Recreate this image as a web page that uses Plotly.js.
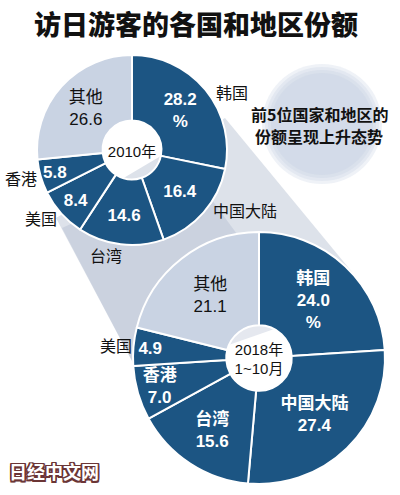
<!DOCTYPE html>
<html>
<head>
<meta charset="utf-8">
<script src="https://cdn.plot.ly/plotly-3.0.1.min.js"></script>
<style>
  html, body { margin: 0; padding: 0; background: #fff; }
  #chart { width: 400px; height: 495px; }
</style>
</head>
<body>
<div id="chart"></div>
<script>
// 访日游客份额 (%) — 2010年 vs 2018年1~10月
const labels2010 = ['韩国', '中国大陆', '台湾', '美国', '香港', '其他'];
const shares2010 = [28.2, 16.4, 14.6, 8.4, 5.8, 26.6];

const labels2018 = ['韩国', '中国大陆', '台湾', '香港', '美国', '其他'];
const shares2018 = [24.0, 27.4, 15.6, 7.0, 4.9, 21.1];

const noteLines = ['前5位国家和地区的', '份额呈现上升态势'];

const W = 400, H = 495;
const DARK  = '#1c5583';
const LIGHT = '#c9d3e3';
const FONT  = '"Liberation Sans", Arial, "Noto Sans CJK SC", sans-serif';
const CJK   = '"Noto Sans CJK SC", sans-serif';

// pie placement in pixels (center + outer radius)
const TOP = { cx: 132, cy: 150, r: 95 };
const BOT = { cx: 259, cy: 358, r: 126 };

function domainOf(p) {
  return {
    x: [(p.cx - p.r) / W, (p.cx + p.r) / W],
    y: [1 - (p.cy + p.r) / H, 1 - (p.cy - p.r) / H],
  };
}

// paper position of a label placed at the middle angle of slice i
function slicePos(p, values, i, rad, nudge) {
  const total = values.reduce((a, b) => a + b, 0);
  const before = values.slice(0, i).reduce((a, b) => a + b, 0);
  const ang = ((before + values[i] / 2) / total * 360 + (nudge || 0)) * Math.PI / 180;
  return { x: (p.cx + rad * Math.sin(ang)) / W, y: 1 - (p.cy - rad * Math.cos(ang)) / H };
}

const colors    = labels => labels.map(l => l === '其他' ? LIGHT : DARK);
const txtColors = labels => labels.map(l => l === '其他' ? '#111' : '#fff');
const txtWeight = labels => labels.map(l => l === '其他' ? 'normal' : 'bold');

// slice texts
const text2010 = shares2010.map((v, i) => {
  const s = v.toFixed(1);
  if (i === 0) return s + '<br>%';
  if (labels2010[i] === '其他') return labels2010[i] + '<br>' + s;
  return s;
});
const text2018 = shares2018.map((v, i) => {
  const s = v.toFixed(1);
  if (labels2018[i] === '美国') return s;
  if (i === 0) return labels2018[i] + '<br>' + s + '<br>%';
  return labels2018[i] + '<br>' + s;
});

const pieBase = {
  type: 'pie',
  sort: false,
  direction: 'clockwise',
  rotation: 0,
  textinfo: 'text',
  textposition: 'inside',
  insidetextorientation: 'horizontal',
  hoverinfo: 'skip',
  showlegend: false,
};

const traces = [
  {
    ...pieBase,
    labels: labels2010, values: shares2010, text: text2010,
    domain: domainOf(TOP), hole: 0.31,
    marker: { colors: colors(labels2010), line: { color: '#fff', width: 2 } },
    textfont: { family: FONT, size: 17, color: txtColors(labels2010), weight: txtWeight(labels2010) },
    title: { text: '2010年', position: 'middle center',
             font: { family: FONT, size: 15, color: '#111' } },
  },
  {
    ...pieBase,
    labels: labels2018, values: shares2018, text: text2018,
    domain: domainOf(BOT), hole: 0.26,
    marker: { colors: colors(labels2018), line: { color: '#fff', width: 2 } },
    textfont: { family: FONT, size: 17, color: txtColors(labels2018), weight: txtWeight(labels2018) },
    title: { text: '2018年<br>1~10月', position: 'middle center',
             font: { family: FONT, size: 15, color: '#111' } },
  },
];

// outside labels: [angle nudge (deg), radius (px)]
const outer2010 = { '韩国': [9, 116], '中国大陆': [-13, 128], '台湾': [7, 108], '美国': [5, 114], '香港': [2, 115] };
const outer2018 = { '美国': [0, 144] };

const annotations = [];
labels2010.forEach((l, i) => {
  if (!outer2010[l]) return;
  const pos = slicePos(TOP, shares2010, i, outer2010[l][1], outer2010[l][0]);
  annotations.push({ xref: 'paper', yref: 'paper', x: pos.x, y: pos.y, text: l, showarrow: false,
    xanchor: 'center', yanchor: 'middle', font: { family: CJK, size: 16, color: '#111' } });
});
labels2018.forEach((l, i) => {
  if (!outer2018[l]) return;
  const pos = slicePos(BOT, shares2018, i, outer2018[l][1], outer2018[l][0]);
  annotations.push({ xref: 'paper', yref: 'paper', x: pos.x, y: pos.y, text: l, showarrow: false,
    xanchor: 'center', yanchor: 'middle', font: { family: CJK, size: 16, color: '#111' } });
});

// note bubble, one annotation per line
noteLines.forEach((t, i) => {
  annotations.push({
    xref: 'paper', yref: 'paper', x: 319 / W, y: 1 - (114 + i * 22) / H,
    text: t, showarrow: false, xanchor: 'center', yanchor: 'middle', borderpad: 0,
    font: { family: CJK, size: 16, color: '#111', weight: 'bold' },
  });
});

// watermark
annotations.push({
  xref: 'paper', yref: 'paper', x: 7 / W, y: 1 - 471 / H,
  text: '日经中文网', showarrow: false, xanchor: 'left', yanchor: 'middle',
  font: { family: CJK, size: 18, color: '#fff', weight: 'bold',
          shadow: '1.5px 1.5px 0 #6b3535, -1.5px -1.5px 0 #6b3535, 1.5px -1.5px 0 #6b3535, -1.5px 1.5px 0 #6b3535, 0 1.5px 0 #6b3535, 0 -1.5px 0 #6b3535, 1.5px 0 0 #6b3535, -1.5px 0 0 #6b3535' },
});

// paper-pixel helpers for decorative shapes
const px = (x, y) => `${(x / W).toFixed(4)} ${(1 - y / H).toFixed(4)}`;
const shadowPath = `M ${px(56, 218)} L ${px(225, 118)} L ${px(352, 272)} L ${px(140, 376)} Z`;
const shadowDark = `M ${px(62, 228)} L ${px(190, 170)} L ${px(300, 320)} L ${px(140, 376)} Z`;

const shapes = [
  { type: 'path', xref: 'paper', yref: 'paper', path: shadowPath, fillcolor: '#dde2ea', line: { width: 0 }, layer: 'below' },
  { type: 'path', xref: 'paper', yref: 'paper', path: shadowDark, fillcolor: 'rgba(150,165,192,0.25)', line: { width: 0 }, layer: 'below' },
];
[60, 57, 54, 51].forEach(r => {
  shapes.push({
    type: 'circle', xref: 'paper', yref: 'paper', layer: 'below',
    x0: (322 - r) / W, x1: (322 + r) / W, y0: 1 - (124 + r) / H, y1: 1 - (124 - r) / H,
    fillcolor: 'rgba(192,204,224,0.26)', line: { width: 0 },
  });
});

const layout = {
  width: W, height: H,
  margin: { t: 0, r: 0, b: 0, l: 0 },
  paper_bgcolor: '#fff',
  title: {
    text: '访日游客的各国和地区份额',
    x: 0.49, xanchor: 'center', y: 1 - 26 / H, yanchor: 'middle',
    font: { family: CJK, size: 27, color: '#111', weight: 900 },
  },
  uniformtext: { mode: 'show', minsize: 17 },
  annotations,
  shapes,
};

Plotly.newPlot('chart', traces, layout, { displayModeBar: false, staticPlot: true });
</script>
</body>
</html>
